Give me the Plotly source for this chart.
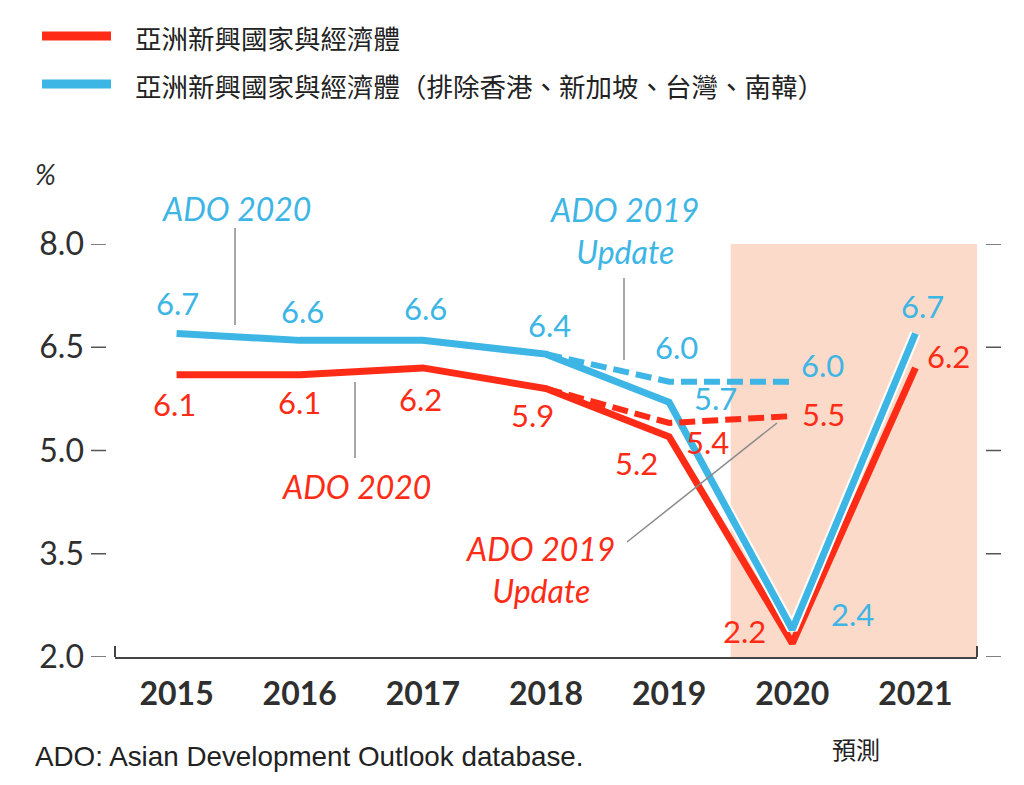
import plotly.graph_objects as go

# ---------------- data ----------------
years = [2015, 2016, 2017, 2018, 2019, 2020, 2021]
asia = [6.1, 6.1, 6.2, 5.9, 5.2, 2.2, 6.2]
asia_ex = [6.7, 6.6, 6.6, 6.4, 5.7, 2.4, 6.7]
upd_years = [2018, 2019, 2020]
asia_upd = [5.9, 5.4, 5.5]
asia_ex_upd = [6.4, 6.0, 6.0]
y_ticks = [2.0, 3.5, 5.0, 6.5, 8.0]
forecast_span = [2019.5, 2021.5]

name_asia = "亞洲新興國家與經濟體"
name_ex = "亞洲新興國家與經濟體（排除香港、新加坡、台灣、南韓）"

RED = "#fe2c16"
BLUE = "#3db5e5"
SHADE = "#fcdac9"
GRAY = "#8a8a8a"
DARK = "#2f2f2f"

OFF = 8  # page body margin
W, H = 1024 - OFF, 785 - OFF
L, R, T, B = 115 - OFF, 47, 244 - OFF, 128
PW, PH = W - L - R, H - T - B


def px(x):
    return (x - OFF - L) / PW


def py(y):
    return (H - B - (y - OFF)) / PH


fig = go.Figure()

# forecast shading
fig.add_shape(type="rect", xref="x", yref="y", x0=forecast_span[0], x1=forecast_span[1],
              y0=y_ticks[0], y1=y_ticks[-1], fillcolor=SHADE, line_width=0, layer="below")

# lines
fig.add_trace(go.Scatter(x=years, y=asia, mode="lines", line=dict(color=RED, width=7),
                         name=name_asia, showlegend=False, hoverinfo="x+y"))
fig.add_trace(go.Scatter(x=years, y=asia_ex, mode="lines", line=dict(color="white", width=11),
                         showlegend=False, hoverinfo="skip"))
fig.add_trace(go.Scatter(x=years, y=asia_ex, mode="lines", line=dict(color=BLUE, width=7),
                         name=name_ex, showlegend=False, hoverinfo="x+y"))
fig.add_trace(go.Scatter(x=upd_years, y=asia_ex_upd, mode="lines",
                         line=dict(color=BLUE, width=6, dash="16px,7px"),
                         showlegend=False, hoverinfo="x+y"))
fig.add_trace(go.Scatter(x=upd_years, y=asia_upd, mode="lines",
                         line=dict(color=RED, width=6, dash="16px,7px"),
                         showlegend=False, hoverinfo="x+y"))

LBL = dict(family="Lato", size=31)

# data labels: offsets in px (dx, dy up)
blue_off = [(1, 30), (3, 29), (3, 32), (3, 29), (46, 4), (60, 15), (7, 27)]
red_off = [(-2, -29), (0, -27), (-2, -31), (-14, -26), (-33, -26), (-48, 12), (33, 12)]
blue_upd_off = [None, (7, 35), (30, 17)]
red_upd_off = [None, (38, -19), (31, 2)]


def add_labels(xs, ys, offs, color):
    for x, y, o in zip(xs, ys, offs):
        if o is None:
            continue
        fig.add_annotation(x=x, y=y, xref="x", yref="y", text=f"{y:.1f}", showarrow=False,
                           xshift=o[0], yshift=o[1], font=dict(LBL, color=color),
                           xanchor="center", yanchor="middle")


add_labels(years, asia_ex, blue_off, BLUE)
add_labels(years, asia, red_off, RED)
add_labels(upd_years, asia_ex_upd, blue_upd_off, BLUE)
add_labels(upd_years, asia_upd, red_upd_off, RED)

# series annotations
ITAL = dict(family="Lato", size=32, style="italic")


def note(text, cx, cy, color):
    fig.add_annotation(x=px(cx), y=py(cy), xref="paper", yref="paper", text=text,
                       showarrow=False, font=dict(ITAL, color=color),
                       xanchor="center", yanchor="middle", align="center")


note("ADO 2020", 236, 208, BLUE)
note("ADO 2020", 356, 486, RED)
note("ADO 2019<br>Update", 624, 231, BLUE)
note("ADO 2019<br>Update", 540, 569, RED)


def seg(x0, y0, x1, y1, color=GRAY, width=1.5):
    fig.add_shape(type="line", xref="paper", yref="paper", x0=px(x0), y0=py(y0),
                  x1=px(x1), y1=py(y1), line=dict(color=color, width=width))


seg(235, 228, 235, 325)
seg(355, 382, 355, 458)
seg(624, 278, 624, 360)
seg(627, 542, 777, 423)

# y tick marks left and right (detached)
for v in y_ticks:
    fig.add_shape(type="line", xref="paper", yref="y", x0=px(91), x1=px(106), y0=v, y1=v,
                  line=dict(color="#555555", width=1.5))
    fig.add_shape(type="line", xref="paper", yref="y", x0=px(986), x1=px(1001), y0=v, y1=v,
                  line=dict(color="#555555", width=1.5))

# bottom axis end caps
seg(115, 646, 115, 657, color="#444444", width=2)
seg(977, 646, 977, 657, color="#444444", width=2)

# legend (manual)
seg(42, 36, 111, 36, color=RED, width=9)
seg(42, 84, 111, 84, color=BLUE, width=9)
CJK = dict(family="Noto Sans CJK TC", size=26.5, color="#222222")
fig.add_annotation(x=px(133), y=py(37), xref="paper", yref="paper", text=name_asia,
                   showarrow=False, font=CJK, xanchor="left", yanchor="middle")
fig.add_annotation(x=px(133), y=py(85), xref="paper", yref="paper", text=name_ex,
                   showarrow=False, font=CJK, xanchor="left", yanchor="middle")

# % unit
fig.add_annotation(x=px(45), y=py(174), xref="paper", yref="paper", text="%",
                   showarrow=False, font=dict(family="Lato", size=28, color=DARK, style="italic"),
                   xanchor="center", yanchor="middle")

# forecast label
fig.add_annotation(x=px(856), y=py(748), xref="paper", yref="paper", text="預測",
                   showarrow=False, font=dict(family="Noto Sans CJK TC", size=24, color="#222222"),
                   xanchor="center", yanchor="middle")

# footnote
fig.add_annotation(x=px(33), y=py(756), xref="paper", yref="paper",
                   text="ADO: Asian Development Outlook database.",
                   showarrow=False, font=dict(family="Liberation Sans", size=27.8, color="#222222"),
                   xanchor="left", yanchor="middle")

fig.update_layout(
    width=W, height=H,
    margin=dict(l=L, r=R, t=T, b=B, pad=0),
    paper_bgcolor="white", plot_bgcolor="white",
    showlegend=False,
    xaxis=dict(range=[2014.5, 2021.5], tickvals=years, ticktext=[str(y) for y in years],
               showgrid=False, zeroline=False, showline=True, linecolor="#444444", linewidth=2,
               ticks="", tickfont=dict(family="Lato", size=32, color=DARK, weight="bold"),
               ticklabelstandoff=8),
    yaxis=dict(range=[2, 8], tickvals=y_ticks, ticktext=[f"{v:.1f}" for v in y_ticks],
               showgrid=False, zeroline=False, showline=False, ticks="",
               tickfont=dict(family="Lato", size=32, color=DARK), ticklabelstandoff=30),
)

fig.write_html("out.html")
